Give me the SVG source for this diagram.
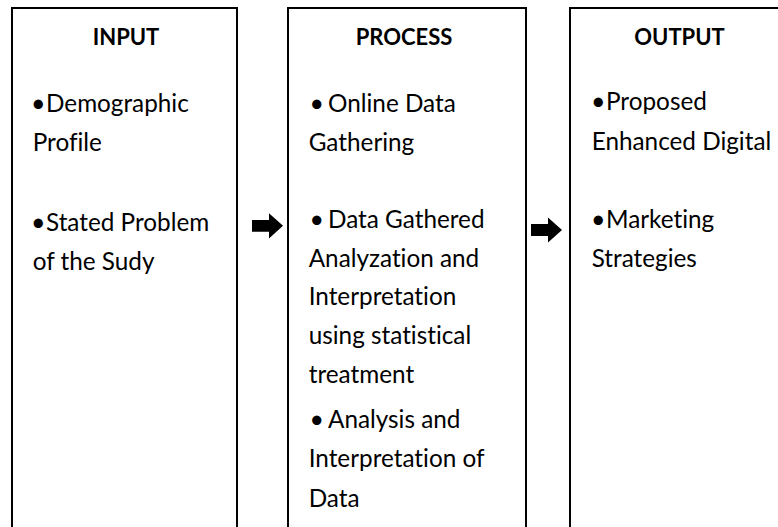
<svg xmlns="http://www.w3.org/2000/svg" xmlns:xlink="http://www.w3.org/1999/xlink" width="778" height="527" viewBox="0 0 778 527">
  <style>
    .box { fill: #ffffff; stroke: #000000; stroke-width: 2; }
    .title { font-family: Lato, "Liberation Sans", sans-serif; font-weight: bold; font-size: 22px; fill: #000000; text-anchor: middle; }
    .body { font-family: Lato, "Liberation Sans", sans-serif; font-size: 24.3px; fill: #000000; font-variant-ligatures: none; }
    .dot { font-size: 25px; }
    .arrow { fill: #000000; }
  </style>
  <defs>
    <!-- block arrow, origin at the left end of the shaft, centred vertically -->
    <path id="blockArrow" d="M0,-5.9 H17 V-12.6 L31,0 L17,12.6 V5.9 H0 Z"/>
  </defs>
  <rect width="778" height="527" fill="#ffffff"/>

  <g id="input">
    <rect class="box" x="12" y="8" width="225" height="540"/>
    <text class="title" x="126" y="45">INPUT</text>
    <text class="body" x="31" y="112"><tspan class="dot">•</tspan><tspan x="46">Demographic</tspan></text>
    <text class="body" x="32.7" y="150.7">Profile</text>
    <text class="body" x="31" y="231"><tspan class="dot">•</tspan><tspan x="46">Stated Problem</tspan></text>
    <text class="body" x="32.7" y="270">of the Sudy</text>
  </g>

  <g id="process">
    <rect class="box" x="288" y="8" width="238" height="540"/>
    <text class="title" x="404" y="45">PROCESS</text>
    <text class="body" x="309.5" y="111.7"><tspan class="dot">•</tspan><tspan x="328">Online Data</tspan></text>
    <text class="body" x="308.7" y="150.7">Gathering</text>
    <text class="body" x="309.5" y="227.7"><tspan class="dot">•</tspan><tspan x="328">Data Gathered</tspan></text>
    <text class="body" x="308.7" y="266.7">Analyzation and</text>
    <text class="body" x="308.7" y="305">Interpretation</text>
    <text class="body" x="308.7" y="344">using statistical</text>
    <text class="body" x="308.7" y="383.3">treatment</text>
    <text class="body" x="309.5" y="428.3"><tspan class="dot">•</tspan><tspan x="328">Analysis and</tspan></text>
    <text class="body" x="308.7" y="466.7">Interpretation of</text>
    <text class="body" x="308.7" y="506.7">Data</text>
  </g>

  <g id="output">
    <rect class="box" x="570" y="8" width="230" height="540"/>
    <text class="title" x="679.5" y="45">OUTPUT</text>
    <text class="body" x="591" y="110"><tspan class="dot">•</tspan><tspan x="606">Proposed</tspan></text>
    <text class="body" x="591.7" y="150">Enhanced Digital</text>
    <text class="body" x="591" y="228.3"><tspan class="dot">•</tspan><tspan x="606">Marketing</tspan></text>
    <text class="body" x="591.7" y="266.7">Strategies</text>
  </g>

  <g id="connectors">
    <use xlink:href="#blockArrow" href="#blockArrow" class="arrow" transform="translate(252,225.8)"/>
    <use xlink:href="#blockArrow" href="#blockArrow" class="arrow" transform="translate(531,230)"/>
  </g>
</svg>
